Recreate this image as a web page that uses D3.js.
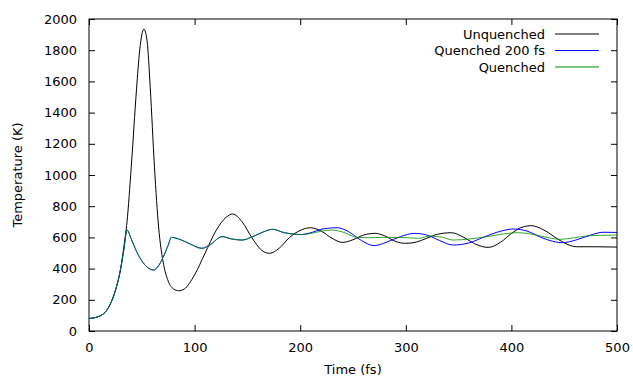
<!DOCTYPE html>
<meta charset="utf-8">
<script src="https://d3js.org/d3.v7.min.js"></script>
<style>
  body { margin: 0; background: #fff; }
  text { font-family: "DejaVu Sans", sans-serif; font-size: 13px; fill: #000; }
</style>
<div id="chart"></div>
<script>
// data
var xTicks = [0, 100, 200, 300, 400, 500];
var yTicks = [0, 200, 400, 600, 800, 1000, 1200, 1400, 1600, 1800, 2000];

var unquenched = [[0,80],[10,95],[20,170],[25,260],[30,400],[33,540],[36,700],[40,1050],[45,1550],[48,1800],[52,1935],[55,1860],[58,1560],[62,1050],[66,660],[70,450],[75,320],[80,270],[85,258],[90,268],[100,360],[110,500],[120,640],[130,730],[136,750],[145,700],[155,590],[165,510],[171,498],[180,530],[190,600],[200,645],[210,662],[220,640],[230,595],[240,568],[250,585],[260,615],[271,626],[280,610],[290,575],[300,562],[310,570],[320,595],[330,620],[343,630],[355,600],[365,560],[378,536],[390,570],[400,625],[410,665],[419,675],[430,650],[445,585],[455,550],[462,540],[480,540],[500,538]];

var common = [[0,80],[10,95],[20,170],[25,260],[30,400],[33,520],[36,647],[40,590],[45,510],[50,450],[55,410],[61,391],[65,410],[70,470],[75,550],[78,600],[85,590],[95,560],[107,530],[115,555],[126,605],[135,590],[145,583],[155,605],[165,635],[174,652],[185,630],[196,620],[200,618]];

var quenched200 = common.concat([[210,630],[222,655],[235,662],[245,640],[258,580],[270,547],[282,570],[295,605],[308,626],[320,615],[332,580],[345,551],[360,565],[375,605],[390,640],[402,654],[415,640],[430,595],[448,566],[462,585],[475,615],[487,633],[500,632]]);

var quenched = common.concat([[210,625],[220,640],[230,647],[240,635],[254,600],[265,598],[279,600],[295,600],[312,594],[323,609],[335,600],[345,583],[360,590],[373,600],[390,620],[406,630],[420,620],[435,598],[446,588],[460,598],[471,609],[485,613],[500,615]]);

var series = [
  {name: "Unquenched", data: unquenched, color: "#000000"},
  {name: "Quenched 200 fs", data: quenched200, color: "#0000ff"},
  {name: "Quenched", data: quenched, color: "#009000"}
];

var width = 633, height = 378;
var margin = {top: 19, right: 16, bottom: 47, left: 89};
var w = width - margin.left - margin.right,
    h = height - margin.top - margin.bottom;

var svg = d3.select("#chart").append("svg")
    .attr("width", width).attr("height", height);
var g = svg.append("g").attr("transform", "translate(" + margin.left + "," + margin.top + ")");

var x = d3.scaleLinear().domain([0, 500]).range([0, w]);
var y = d3.scaleLinear().domain([0, 2000]).range([h, 0]);

// ticks, inward, mirrored
g.append("g").attr("transform", "translate(0," + h + ")")
  .call(d3.axisBottom(x).tickValues(xTicks).tickFormat(d3.format("d")).tickSizeInner(-6).tickSizeOuter(0).tickPadding(12))
  .call(a => a.select(".domain").remove());
g.append("g")
  .call(d3.axisTop(x).tickValues(xTicks).tickSizeInner(-6).tickSizeOuter(0).tickFormat(""))
  .call(a => a.select(".domain").remove());
g.append("g")
  .call(d3.axisLeft(y).tickValues(yTicks).tickFormat(d3.format("d")).tickSizeInner(-6).tickSizeOuter(0).tickPadding(12))
  .call(a => a.select(".domain").remove());
g.append("g").attr("transform", "translate(" + w + ",0)")
  .call(d3.axisRight(y).tickValues(yTicks).tickSizeInner(-6).tickSizeOuter(0).tickFormat(""))
  .call(a => a.select(".domain").remove());
g.selectAll(".tick line").attr("stroke", "#000");
g.selectAll(".tick text").style("font-size", "13px").style("font-family", "DejaVu Sans, sans-serif");

var line = d3.line()
  .x(d => x(d[0]))
  .y(d => y(d[1]))
  .curve(d3.curveMonotoneX);

series.forEach(function(s) {
  g.append("path")
    .datum(s.data)
    .attr("fill", "none")
    .attr("stroke", s.color)
    .attr("stroke-width", 1)
    .attr("stroke-opacity", s.name == "Quenched" ? 0.8 : 1)
    .attr("d", line);
});

g.append("rect").attr("width", w).attr("height", h)
  .attr("fill", "none").attr("stroke", "#000").attr("stroke-width", 1);

// legend
var leg = g.selectAll(".leg").data(series).enter().append("g")
  .attr("transform", (d, i) => "translate(0," + (15 + i * 16.5) + ")");
leg.append("text")
  .attr("x", 456).attr("y", 0).attr("dy", "0.35em")
  .attr("text-anchor", "end")
  .text(d => d.name);
leg.append("line")
  .attr("x1", 466).attr("x2", 510)
  .attr("stroke", d => d.color).attr("stroke-width", 1);

svg.append("text")
  .attr("x", margin.left + w / 2).attr("y", 374)
  .attr("text-anchor", "middle").text("Time (fs)");
svg.append("text")
  .attr("transform", "translate(22," + (margin.top + h / 2) + ") rotate(-90)")
  .attr("text-anchor", "middle").text("Temperature (K)");
</script>
